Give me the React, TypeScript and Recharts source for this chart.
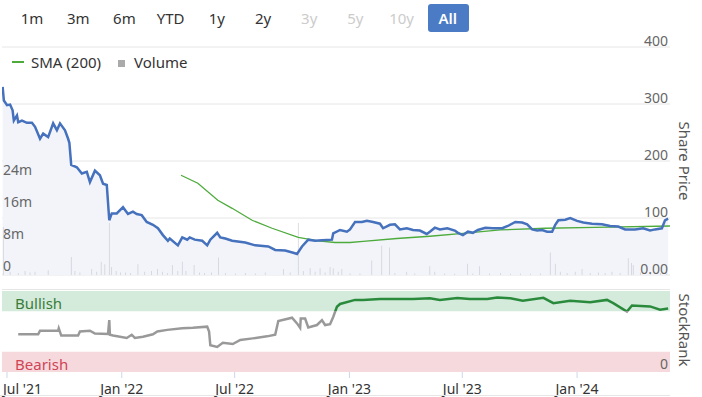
import React from 'react';
import { ComposedChart, Area, Line, Bar, XAxis, YAxis, CartesianGrid, ReferenceArea } from 'recharts';

// share price (p)
const price: [string, number][] = [
  ['2021-06-24', 330], ['2021-06-26', 306], ['2021-07-01', 298], ['2021-07-06', 299],
  ['2021-07-10', 289], ['2021-07-12', 271], ['2021-07-17', 280], ['2021-07-19', 268],
  ['2021-07-25', 271], ['2021-08-02', 267], ['2021-08-10', 267], ['2021-08-15', 260],
  ['2021-08-23', 239], ['2021-08-28', 248], ['2021-09-05', 242], ['2021-09-13', 266],
  ['2021-09-19', 254], ['2021-09-24', 266], ['2021-10-02', 254], ['2021-10-07', 239],
  ['2021-10-09', 232], ['2021-10-12', 193], ['2021-10-21', 189], ['2021-10-29', 178],
  ['2021-11-06', 181], ['2021-11-11', 163], ['2021-11-19', 183], ['2021-11-27', 175],
  ['2021-12-02', 160], ['2021-12-08', 158], ['2021-12-12', 96], ['2021-12-16', 108],
  ['2021-12-24', 108], ['2022-01-03', 119], ['2022-01-11', 107], ['2022-01-19', 111],
  ['2022-01-25', 107], ['2022-02-02', 105], ['2022-02-10', 93], ['2022-02-20', 88],
  ['2022-02-28', 82], ['2022-03-08', 70], ['2022-03-16', 60], ['2022-03-19', 64],
  ['2022-04-01', 52], ['2022-04-08', 66], ['2022-04-16', 62], ['2022-04-20', 66],
  ['2022-04-28', 62], ['2022-05-10', 60], ['2022-05-18', 52], ['2022-05-23', 62],
  ['2022-06-03', 74], ['2022-06-08', 66], ['2022-06-16', 64], ['2022-06-27', 60],
  ['2022-07-18', 57], ['2022-08-03', 52], ['2022-08-24', 50], ['2022-09-04', 44],
  ['2022-09-20', 43], ['2022-10-03', 39], ['2022-10-09', 37], ['2022-10-17', 50],
  ['2022-10-27', 62], ['2022-11-07', 60], ['2022-11-18', 61], ['2022-12-04', 62],
  ['2022-12-06', 73], ['2022-12-17', 79], ['2022-12-28', 76], ['2023-01-02', 80],
  ['2023-01-10', 93], ['2023-01-21', 93], ['2023-01-29', 95], ['2023-02-08', 93],
  ['2023-02-19', 90], ['2023-02-24', 82], ['2023-03-07', 88], ['2023-03-15', 89],
  ['2023-03-23', 80], ['2023-04-03', 82], ['2023-04-13', 79], ['2023-04-24', 78],
  ['2023-05-05', 72], ['2023-05-10', 76], ['2023-05-18', 83], ['2023-05-26', 80],
  ['2023-06-07', 82], ['2023-06-19', 78], ['2023-06-24', 74], ['2023-07-02', 70],
  ['2023-07-10', 76], ['2023-07-18', 74], ['2023-07-26', 79], ['2023-08-07', 83],
  ['2023-08-19', 82], ['2023-09-03', 82], ['2023-09-12', 86], ['2023-09-24', 93],
  ['2023-10-05', 92], ['2023-10-13', 89], ['2023-10-21', 80], ['2023-10-29', 78],
  ['2023-11-06', 79], ['2023-11-14', 76], ['2023-11-22', 76], ['2023-11-27', 88],
  ['2023-12-02', 96], ['2023-12-13', 97], ['2023-12-21', 100], ['2024-01-01', 95],
  ['2024-01-11', 92], ['2024-01-25', 90], ['2024-02-10', 89], ['2024-02-23', 86],
  ['2024-03-07', 85], ['2024-03-18', 80], ['2024-04-03', 80], ['2024-04-16', 82],
  ['2024-04-27', 78], ['2024-05-05', 80], ['2024-05-16', 82], ['2024-05-21', 96],
  ['2024-05-26', 99],
];

const sma200: [string, number][] = [
  ['2022-04-06', 175], ['2022-05-03', 161], ['2022-06-04', 131], ['2022-06-27', 117],
  ['2022-07-29', 96], ['2022-08-30', 82], ['2022-10-11', 66], ['2022-11-12', 60],
  ['2022-12-09', 57], ['2023-01-02', 57], ['2023-01-23', 59], ['2023-03-18', 64],
  ['2023-05-10', 68], ['2023-07-02', 73], ['2023-08-31', 79], ['2023-11-11', 82],
  ['2024-01-30', 83.5], ['2024-05-29', 86],
];

// volume in millions
const volume: [string, number][] = [
  ['2021-06-25', 12], ['2021-07-06', 0.8], ['2021-07-19', 0.5], ['2021-07-30', 1],
  ['2021-08-07', 0.6], ['2021-08-15', 0.8], ['2021-09-05', 1.2], ['2021-10-12', 4.5],
  ['2021-10-18', 1], ['2021-10-26', 0.6], ['2021-11-14', 1.5], ['2021-11-22', 0.8],
  ['2021-11-29', 3.3], ['2021-12-05', 2.7], ['2021-12-12', 13], ['2021-12-16', 2],
  ['2021-12-23', 1], ['2021-12-30', 0.6], ['2022-01-07', 0.6], ['2022-01-15', 0.5],
  ['2022-01-27', 2.7], ['2022-02-07', 0.8], ['2022-02-18', 1], ['2022-02-27', 1.5],
  ['2022-03-07', 0.8], ['2022-03-15', 0.5], ['2022-03-23', 2.5], ['2022-04-01', 1],
  ['2022-04-08', 3.3], ['2022-04-14', 1], ['2022-04-27', 2.5], ['2022-05-06', 0.6],
  ['2022-05-14', 0.5], ['2022-05-25', 0.6], ['2022-06-05', 4.4], ['2022-06-16', 0.5],
  ['2022-07-02', 0.4], ['2022-07-18', 0.5], ['2022-08-03', 0.4], ['2022-08-19', 0.6],
  ['2022-09-17', 1.5], ['2022-09-28', 0.6], ['2022-10-11', 13], ['2022-10-19', 1],
  ['2022-10-30', 1.7], ['2022-11-07', 0.8], ['2022-11-15', 1.7], ['2022-11-23', 0.6],
  ['2022-12-01', 2], ['2022-12-06', 1.7], ['2022-12-14', 0.8], ['2022-12-20', 1.5],
  ['2023-01-02', 0.4], ['2023-01-18', 0.4], ['2023-02-06', 3.6], ['2023-02-22', 7.3],
  ['2023-03-06', 6.9], ['2023-03-15', 0.5], ['2023-04-03', 0.8], ['2023-04-16', 0.4],
  ['2023-05-10', 2.2], ['2023-05-18', 0.8], ['2023-06-03', 0.4], ['2023-06-19', 0.3],
  ['2023-07-09', 2.8], ['2023-07-18', 0.4], ['2023-07-29', 2.2], ['2023-08-14', 0.4],
  ['2023-08-31', 0.5], ['2023-09-16', 0.3], ['2023-10-02', 0.4], ['2023-10-18', 0.3],
  ['2023-11-03', 0.4], ['2023-11-19', 5.6], ['2023-11-27', 2.8], ['2023-12-05', 0.8],
  ['2023-12-16', 0.5], ['2023-12-29', 0.8], ['2024-01-09', 1.5], ['2024-01-22', 0.5],
  ['2024-02-04', 0.6], ['2024-02-15', 0.5], ['2024-02-26', 0.8], ['2024-03-10', 0.5],
  ['2024-03-23', 4.2], ['2024-03-28', 3], ['2024-03-31', 2.5], ['2024-04-12', 0.6],
  ['2024-04-28', 0.4], ['2024-05-14', 0.5], ['2024-05-24', 0.4],
];

const stockRank: [string, number][] = [
  ['2021-07-19', 46.5], ['2021-08-20', 46.5], ['2021-08-23', 51], ['2021-09-13', 51],
  ['2021-09-21', 51], ['2021-09-22', 54], ['2021-09-26', 45], ['2021-10-23', 45],
  ['2021-10-26', 50], ['2021-11-11', 51], ['2021-11-19', 47.5], ['2021-12-10', 47],
  ['2021-12-12', 64], ['2021-12-13', 46], ['2021-12-18', 45], ['2022-01-09', 42],
  ['2022-01-17', 46], ['2022-01-22', 42], ['2022-02-04', 43.5], ['2022-02-20', 46.5],
  ['2022-02-27', 50], ['2022-03-15', 52], ['2022-04-08', 54], ['2022-04-25', 54.5],
  ['2022-05-18', 56], ['2022-05-21', 50], ['2022-05-23', 33], ['2022-06-03', 31],
  ['2022-06-12', 36], ['2022-06-28', 34.5], ['2022-07-10', 39.5], ['2022-07-30', 41.5],
  ['2022-08-22', 44], ['2022-09-04', 46], ['2022-09-09', 63], ['2022-10-01', 67],
  ['2022-10-09', 60], ['2022-10-14', 54.5], ['2022-10-15', 66], ['2022-10-22', 66],
  ['2022-10-27', 55], ['2022-11-10', 58], ['2022-11-18', 64], ['2022-11-23', 58],
  ['2022-12-01', 59], ['2022-12-06', 68], ['2022-12-12', 80.5], ['2022-12-17', 84],
  ['2023-01-10', 89], ['2023-01-23', 89], ['2023-02-19', 90], ['2023-04-13', 90],
  ['2023-05-10', 91], ['2023-05-26', 89], ['2023-06-23', 91.5], ['2023-07-13', 90],
  ['2023-08-10', 90], ['2023-08-26', 92], ['2023-09-16', 91], ['2023-10-06', 88],
  ['2023-11-08', 91.5], ['2023-11-24', 85], ['2023-12-21', 88], ['2024-01-22', 86],
  ['2024-02-18', 89], ['2024-02-28', 85], ['2024-03-21', 74.5], ['2024-03-29', 82],
  ['2024-04-27', 81], ['2024-05-13', 77], ['2024-05-26', 78.5],
];

const rangeButtons = ['1m', '3m', '6m', 'YTD', '1y', '2y', '3y', '5y', '10y', 'All'];
const disabledRanges = ['3y', '5y', '10y'];
const priceTicks = [0, 100, 200, 300, 400];
const volumeTicks = [0, 8, 16, 24];
const rankTicks = [0];
const dateTicks = ['2021-07-01', '2022-01-01', '2022-07-01', '2023-01-01', '2023-07-01', '2024-01-01'];

const MONTHS = ['Jan', 'Feb', 'Mar', 'Apr', 'May', 'Jun', 'Jul', 'Aug', 'Sep', 'Oct', 'Nov', 'Dec'];
const FONT = '"Noto Sans", sans-serif';
const ts = (d: string) => Date.parse(d);
const X_DOMAIN = [ts('2021-06-23'), ts('2024-05-29')];

const rows = new Map<number, Record<string, number>>();
const put = (list: [string, number][], key: string) =>
  list.forEach(([d, v]) => {
    const t = ts(d);
    const r = rows.get(t) ?? { t };
    r[key] = v;
    rows.set(t, r);
  });
put(price, 'price');
put(sma200, 'sma');
put(volume, 'vol');
const mainData = [...rows.values()].sort((a, b) => a.t - b.t);
const rankData = stockRank.map(([d, v]) => ({ t: ts(d), rank: v }));

const fmtDate = (t: number) => {
  const d = new Date(t);
  return `${MONTHS[d.getUTCMonth()]} '${String(d.getUTCFullYear()).slice(2)}`;
};

function PriceTick(p: any) {
  const v = p.payload.value;
  return (
    <text x={668} y={p.y - 7} textAnchor="end" dominantBaseline="central" fill="#666" fontSize={14} fontFamily={FONT}>
      {v === 0 ? '0.00' : v}
    </text>
  );
}

function VolumeTick(p: any) {
  const v = p.payload.value;
  return (
    <text x={3} y={p.y - 10} textAnchor="start" dominantBaseline="central" fill="#666" fontSize={14} fontFamily={FONT}>
      {v === 0 ? '0' : `${v}m`}
    </text>
  );
}

function RankTick(p: any) {
  return (
    <text x={668} y={p.y - 9} textAnchor="end" dominantBaseline="central" fill="#666" fontSize={14} fontFamily={FONT}>
      {p.payload.value}
    </text>
  );
}

function DateTick(p: any) {
  const first = p.payload.value === ts(dateTicks[0]);
  return (
    <text x={first ? 3 : p.x} y={388} textAnchor={first ? 'start' : 'middle'} dominantBaseline="central" fill="#333" fontSize={14} fontFamily={FONT}>
      {fmtDate(p.payload.value)}
    </text>
  );
}

export default function App() {
  return (
    <div style={{ position: 'absolute', left: 0, top: 0, width: 702, height: 397, background: '#fff', overflow: 'hidden', fontFamily: FONT }}>
      <div style={{ position: 'absolute', left: 0, top: 0 }}>
        <ComposedChart width={702} height={280} data={mainData} margin={{ top: 47, right: 31, left: 1, bottom: 5 }}>
          <CartesianGrid yAxisId="price" vertical={false} stroke="#e6e6e6" />
          <XAxis dataKey="t" type="number" domain={X_DOMAIN} hide allowDataOverflow />
          <YAxis yAxisId="price" orientation="right" domain={[0, 400]} ticks={priceTicks} interval={0}
            width={1} axisLine={false} tickLine={false} tick={PriceTick} />
          <YAxis yAxisId="vol" orientation="left" domain={[0, 57]} ticks={volumeTicks} interval={0}
            width={1} axisLine={false} tickLine={false} tick={VolumeTick} allowDataOverflow />
          <Area yAxisId="price" dataKey="price" type="linear" stroke="none" fill="#f2f4fa" fillOpacity={1}
            connectNulls isAnimationActive={false} />
          <Bar yAxisId="vol" dataKey="vol" barSize={1} fill="#c4c4cc" isAnimationActive={false} />
          <Line yAxisId="price" dataKey="sma" type="linear" stroke="#4dab3c" strokeWidth={1.3} dot={false}
            connectNulls isAnimationActive={false} />
          <Line yAxisId="price" dataKey="price" type="linear" stroke="#4571bd" strokeWidth={2.5} dot={false}
            connectNulls isAnimationActive={false} />
        </ComposedChart>
      </div>
      <div style={{ position: 'absolute', left: 0, top: 0 }}>
        <ComposedChart width={702} height={397} data={rankData} margin={{ top: 291, right: 31, left: 2, bottom: 0 }}>
          <defs>
            <linearGradient id="rankGrad" gradientUnits="userSpaceOnUse" x1="0" y1="291" x2="0" y2="372">
              <stop offset="0" stopColor="#2a8a3c" />
              <stop offset="0.25" stopColor="#2a8a3c" />
              <stop offset="0.25" stopColor="#999" />
              <stop offset="1" stopColor="#999" />
            </linearGradient>
          </defs>
          <XAxis dataKey="t" type="number" domain={X_DOMAIN} ticks={dateTicks.map(ts)} interval={0}
            height={25} tickSize={6} axisLine={false} tickLine={{ stroke: '#ccd6eb' }} tick={DateTick} allowDataOverflow />
          <YAxis orientation="right" domain={[0, 100]} ticks={rankTicks} interval={0} width={1}
            axisLine={false} tickLine={false} tick={RankTick} />
          <ReferenceArea y1={75} y2={100} fill="#d4eadb" fillOpacity={1} stroke="none" />
          <ReferenceArea y1={0} y2={25} fill="#f6d9dc" fillOpacity={1} stroke="none" />
          <Line dataKey="rank" type="linear" stroke="url(#rankGrad)" strokeWidth={2.5} dot={false}
            isAnimationActive={false} />
        </ComposedChart>
      </div>
      <svg width={702} height={397} style={{ position: 'absolute', left: 0, top: 0, pointerEvents: 'none' }}>
        {rangeButtons.map((b, i) => {
          const cx = 32 + i * 46.2;
          const active = b === 'All';
          return (
            <g key={b}>
              {active && <rect x={428} y={4} width={41} height={28} rx={3} fill="#4a7bc4" />}
              <text x={cx} y={18} textAnchor="middle" dominantBaseline="central" fontSize={15} fontFamily={FONT}
                fill={active ? '#fff' : disabledRanges.includes(b) ? '#ccc' : '#333'} fontWeight={active ? 600 : 400}>
                {b}
              </text>
            </g>
          );
        })}
        <line x1={12} x2={24} y1={62} y2={62} stroke="#4dab3c" strokeWidth={2} />
        <text x={31} y={62} dominantBaseline="central" fontSize={15} fontFamily={FONT} fill="#333">SMA (200)</text>
        <rect x={118} y={60} width={7} height={7} fill="#aaa" />
        <text x={134} y={62} dominantBaseline="central" fontSize={15} fontFamily={FONT} fill="#333">Volume</text>
        <text transform="translate(685,161) rotate(90)" textAnchor="middle" dominantBaseline="central" fontSize={15} fontFamily={FONT} fill="#555">Share Price</text>
        <text transform="translate(685,330) rotate(90)" textAnchor="middle" dominantBaseline="central" fontSize={15} fontFamily={FONT} fill="#555">StockRank</text>
        <line x1={2} x2={670} y1={289.5} y2={289.5} stroke="#e6e6e6" />
        <text x={15} y={303} dominantBaseline="central" fontSize={15} fontFamily={FONT} fill="#3a7d3a">Bullish</text>
        <text x={15} y={364} dominantBaseline="central" fontSize={15} fontFamily={FONT} fill="#d04457">Bearish</text>
        <line x1={0} x2={670} y1={395.5} y2={395.5} stroke="#e6e6e6" />
      </svg>
    </div>
  );
}
